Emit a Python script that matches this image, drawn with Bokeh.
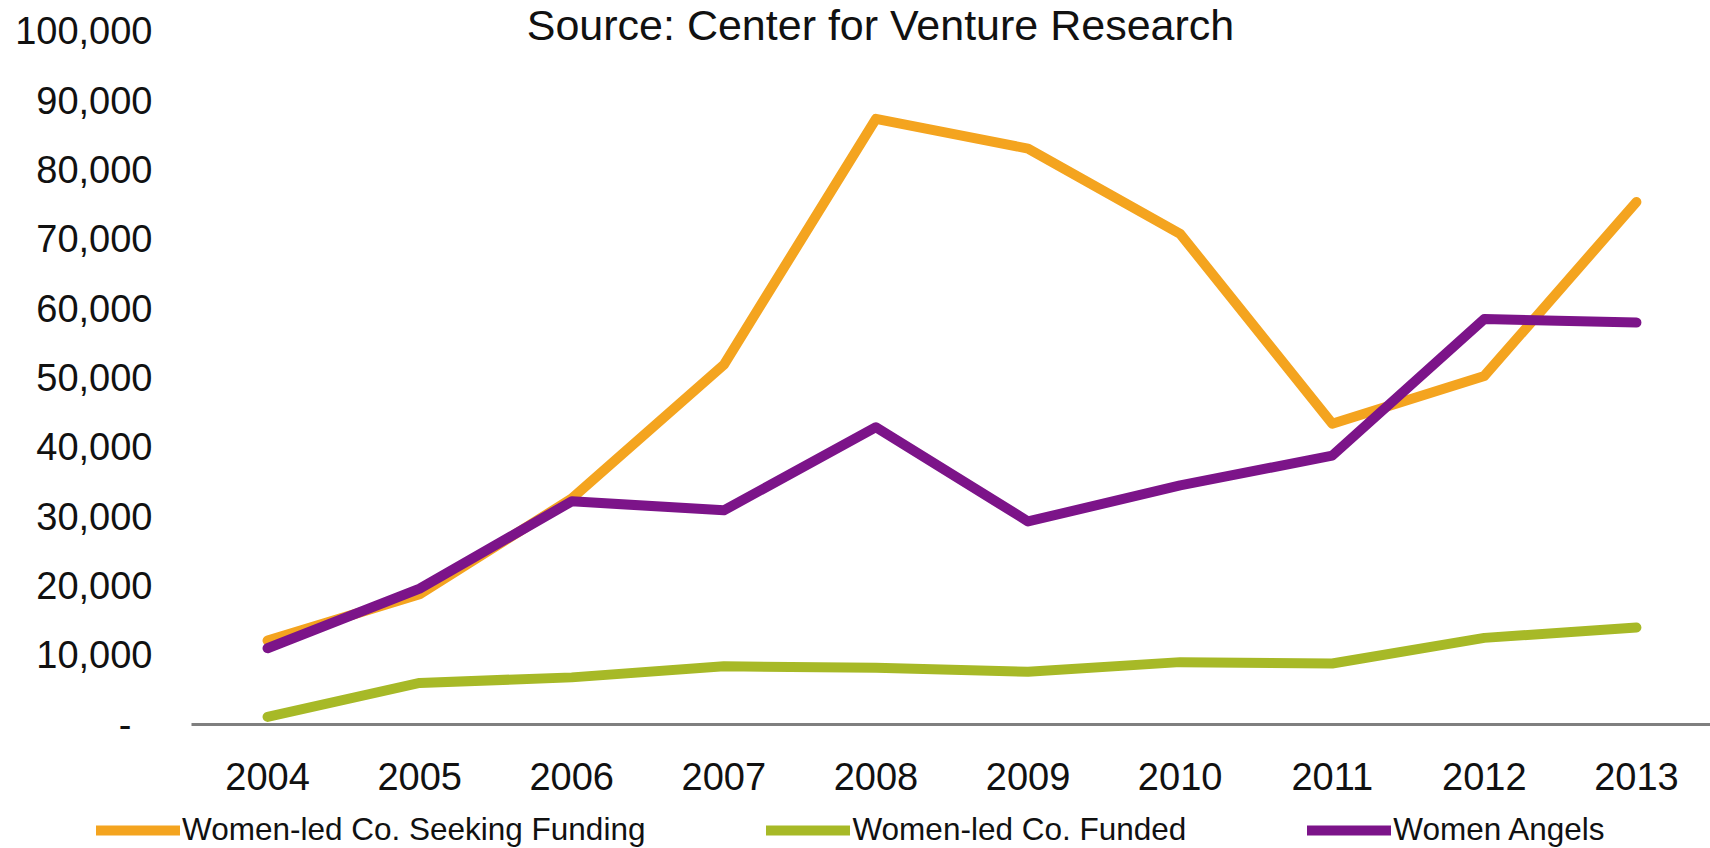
from bokeh.plotting import figure
from bokeh.layouts import column
from bokeh.models import (Range1d, FixedTicker, NumeralTickFormatter, Legend,
                          LegendItem, Label)
from bokeh.embed import file_html
from bokeh.resources import INLINE

years = [2004, 2005, 2006, 2007, 2008, 2009, 2010, 2011, 2012, 2013]
seeking = [12100, 18800, 32600, 51900, 87400, 83100, 70800, 43400, 50300, 75400]
funded = [1100, 6000, 6800, 8400, 8200, 7600, 9000, 8800, 12500, 14000]
angels = [11000, 19600, 32200, 30900, 42900, 29300, 34500, 38800, 58500, 58000]
y_ticks = [0, 10000, 20000, 30000, 40000, 50000, 60000, 70000, 80000, 90000, 100000]
series_names = ["Women-led Co. Seeking Funding", "Women-led Co. Funded", "Women Angels"]
title_text = "Source: Center for Venture Research"

ORANGE = "#F4A41F"
GREEN = "#A7B927"
PURPLE = "#7C1489"
COLORS = [ORANGE, GREEN, PURPLE]
FONT = "Liberation Sans"
LW = 10

p = figure(width=1710, height=808, output_backend="svg", toolbar_location=None,
           x_range=Range1d(2003.5, 2013.487), y_range=Range1d(0, 104470),
           min_border_left=191, min_border_right=0, min_border_top=0,
           min_border_bottom=84)
p.outline_line_color = None
p.xgrid.visible = False
p.ygrid.visible = False
p.background_fill_color = "white"
p.border_fill_color = "white"

for vals, col in zip([seeking, funded, angels], COLORS):
    p.line(years, vals, line_color=col, line_width=LW, line_cap="round", line_join="round")

# x axis
xa = p.xaxis[0]
xa.ticker = FixedTicker(ticks=years)
xa.axis_line_color = "#7F7F7F"
xa.axis_line_width = 3
xa.major_tick_line_color = None
xa.minor_tick_line_color = None
xa.major_label_text_font = FONT
xa.major_label_text_font_size = "38px"
xa.major_label_text_color = "#111111"
xa.major_label_standoff = 32

# y axis
ya = p.yaxis[0]
ya.ticker = FixedTicker(ticks=y_ticks)
ya.formatter = NumeralTickFormatter(format="0,0")
ya.major_label_overrides = {0: "-\u2007"}
ya.axis_line_color = None
ya.major_tick_line_color = None
ya.minor_tick_line_color = None
ya.major_label_text_font = FONT
ya.major_label_text_font_size = "38px"
ya.major_label_text_color = "#111111"
ya.major_label_standoff = 33

# title
p.add_layout(Label(x=689, y=724, x_units="screen", y_units="screen", text=title_text,
                   text_align="center", text_baseline="top", text_font=FONT,
                   text_font_size="43px", text_color="#111111"))

# legend strip below the chart (its renderers are hidden; only the legend shows)
lg = figure(width=1710, height=40, output_backend="svg", toolbar_location=None,
            x_range=Range1d(0, 1), y_range=Range1d(0, 1),
            x_axis_type=None, y_axis_type=None,
            min_border_left=0, min_border_right=0, min_border_top=0, min_border_bottom=0)
lg.outline_line_color = None
lg.xgrid.visible = False
lg.ygrid.visible = False

legend_x = 96 - 191
if "frame_align" in lg.properties():
    lg.frame_align = False
    p.frame_align = False
    legend_x = 96

items = []
for name, vals, col in zip(series_names, [seeking, funded, angels], COLORS):
    r = lg.line(years, vals, line_color=col, line_width=LW, line_cap="round", visible=False)
    items.append(LegendItem(label=name, renderers=[r]))
legend = Legend(items=items, orientation="horizontal", location=(legend_x, 0),
                glyph_width=84, glyph_height=30, label_standoff=2, spacing=121,
                padding=0, margin=0, border_line_alpha=0, background_fill_alpha=0,
                inactive_fill_alpha=0,
                label_text_font=FONT, label_text_font_size="31.5px",
                label_text_color="#111111")
lg.add_layout(legend)

layout = column(p, lg, spacing=0)
open("out.html", "w").write(file_html(layout, INLINE))
